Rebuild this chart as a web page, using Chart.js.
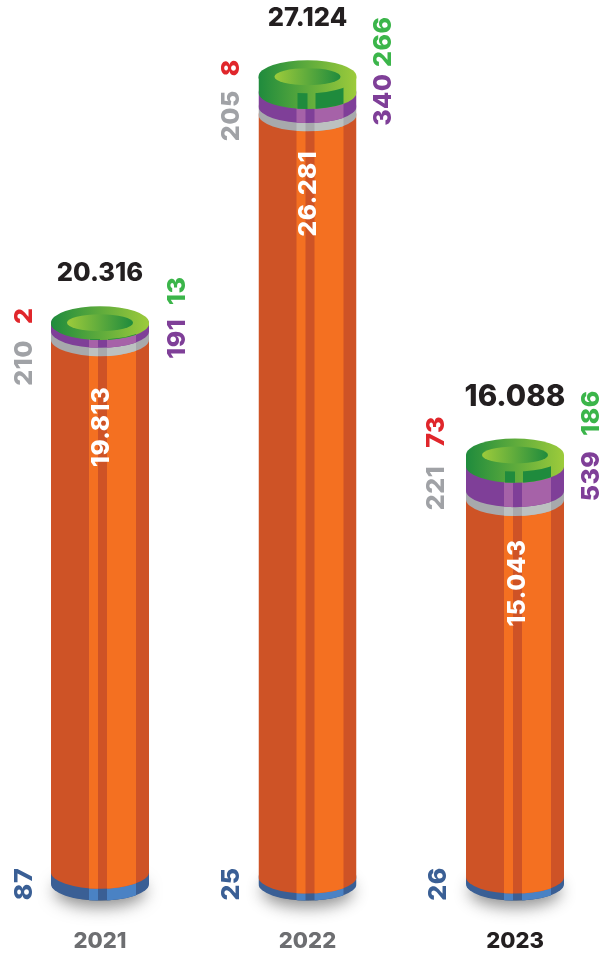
<!DOCTYPE html>
<html>
<head>
<meta charset="utf-8">
<title>2021-2023</title>
<script src="https://cdn.jsdelivr.net/npm/chart.js@4/dist/chart.umd.min.js"></script>
<style>
  html, body { margin: 0; padding: 0; background: #fff; }
  #wrap { position: relative; width: 601px; height: 955px; }
</style>
</head>
<body>
<div id="wrap"><canvas id="chart"></canvas></div>
<script>
const years = ['2021', '2022', '2023'];
const totals = ['20.316', '27.124', '16.088'];
const blue = [87, 25, 26];
const orange = [19813, 26281, 15043];
const gray = [210, 205, 221];
const red = [2, 8, 73];
const purple = [191, 340, 539];
const green = [13, 266, 186];

const series = [blue, orange, gray, red, purple, green];

// the source picture is not drawn to one scale: each column gets its own axis
const columnMax = [32000, 29700, 33150];
const RY = 16.5;

const shades = {
  blue: ['#3A5F95', '#4A82C4'],
  orange: ['#CE5326', '#F47021'],
  gray: ['#A7A9AC', '#BCC1C0'],
  purple: ['#7F3F98', '#A662A8']
};

// label placement, relative to the column centre and its top
const spots = {
  total: [[0, -49], [0, -58], [0, -58]],
  orange: [[1.5, 104], [1.5, 117], [2.5, 128]],
  red: [[-75.5, -7], [-76.5, -9], [-78.5, -23]],
  gray: [[-75.5, 40], [-76.5, 39], [-78.5, 33]],
  green: [[77.5, -32], [75.5, -35], [76.5, -42]],
  purple: [[77.5, 16], [75.5, 23], [76.5, 21]]
};
const totalSize = [25.5, 25.5, 29.5];

const fmt = v => v >= 1000 ? String(v).replace(/(\d)(\d{3})$/, '$1.$2') : String(v);

function segment(ctx, x, w, yTop, yBottom, pair) {
  const cx = x + w / 2;
  ctx.save();
  ctx.beginPath();
  ctx.moveTo(x, yTop);
  ctx.lineTo(x, yBottom);
  ctx.ellipse(cx, yBottom, w / 2, RY, 0, Math.PI, 0, true);
  ctx.lineTo(x + w, yTop);
  ctx.ellipse(cx, yTop, w / 2, RY, 0, 0, Math.PI, true);
  ctx.closePath();
  ctx.clip();
  const h = yBottom - yTop + RY * 2 + 2;
  const top = yTop - RY - 1;
  ctx.fillStyle = pair[0];
  ctx.fillRect(x, top, w, h);
  ctx.fillStyle = pair[1];
  ctx.fillRect(x + 38, top, 9, h);
  ctx.fillRect(x + 56, top, 29, h);
  ctx.restore();
}

function ringGradient(ctx, x0, x1, from, to) {
  const g = ctx.createLinearGradient(x0, 0, x1, 0);
  g.addColorStop(0, from);
  g.addColorStop(1, to);
  return g;
}

function drawTop(ctx, x, w, yTop, yBottom) {
  const cx = x + w / 2;
  // green wall
  ctx.save();
  ctx.beginPath();
  ctx.moveTo(x, yTop);
  ctx.lineTo(x, yBottom);
  ctx.ellipse(cx, yBottom, w / 2, RY, 0, Math.PI, 0, true);
  ctx.lineTo(x + w, yTop);
  ctx.closePath();
  ctx.clip();
  ctx.fillStyle = ringGradient(ctx, x, x + w, '#1F8B3D', '#9DCB3B');
  ctx.fillRect(x, yTop, w, yBottom - yTop + RY + 1);
  ctx.fillStyle = '#1F8B3D';
  ctx.fillRect(x + 39, yTop, 10, yBottom - yTop + RY + 1);
  ctx.fillRect(x + 57, yTop, 28, yBottom - yTop + RY + 1);
  ctx.restore();
  // lid
  ctx.beginPath();
  ctx.ellipse(cx, yTop, w / 2, RY, 0, 0, Math.PI * 2);
  ctx.fillStyle = ringGradient(ctx, x, x + w, '#1F8B3D', '#9DCB3B');
  ctx.fill();
  // hole
  ctx.beginPath();
  ctx.ellipse(cx, yTop, 33, 8.5, 0, 0, Math.PI * 2);
  ctx.fillStyle = ringGradient(ctx, cx - 33, cx + 33, '#9DCB3B', '#1F8B3D');
  ctx.fill();
}

function drawShadow(ctx, cx, y, w) {
  ctx.save();
  ctx.shadowColor = 'rgba(60,60,60,0.7)';
  ctx.shadowBlur = 16;
  ctx.shadowOffsetY = 7;
  ctx.fillStyle = 'rgba(90,90,90,0.8)';
  ctx.beginPath();
  ctx.ellipse(cx, y, w / 2 - 3, RY, 0, 0, Math.PI * 2);
  ctx.fill();
  ctx.restore();
}

function upright(ctx, text, x, y, color, size) {
  ctx.save();
  ctx.translate(x, y);
  ctx.rotate(-Math.PI / 2);
  ctx.font = '800 ' + size + 'px Inter';
  ctx.letterSpacing = '0.5px';
  ctx.textAlign = 'center';
  ctx.textBaseline = 'middle';
  ctx.fillStyle = color;
  ctx.fillText(text, 0, 0);
  ctx.restore();
}

const barOf = (chart, s, i) => chart.getDatasetMeta(s * years.length + i).data[i];

const cylinders = {
  id: 'cylinders',
  afterDatasetsDraw(chart) {
    const ctx = chart.ctx;
    const band = chart.scales.yBand;
    const px = v => band.getPixelForValue(0) - band.getPixelForValue(v);
    years.forEach((_, i) => {
      const first = barOf(chart, 0, i);
      const last = barOf(chart, 5, i);
      const w = first.width, x = first.x - w / 2, cx = first.x;
      const base = first.base, top = last.y;

      drawShadow(ctx, cx, base, w);

      // thin rings keep a readable thickness, the orange body takes the rest
      const blueTop = base - Math.max(7, px(blue[i]) * 3.4);
      const wallBottom = top + px(green[i]) * 1.5;
      const purpleBottom = wallBottom + px(purple[i] + red[i]);
      const grayBottom = purpleBottom + px(gray[i]);

      segment(ctx, x, w, blueTop, base, shades.blue);
      segment(ctx, x, w, grayBottom, blueTop, shades.orange);
      segment(ctx, x, w, purpleBottom, grayBottom, shades.gray);
      segment(ctx, x, w, wallBottom, purpleBottom, shades.purple);
      drawTop(ctx, x, w, top, wallBottom);

      const at = (name) => [cx + spots[name][i][0], top + spots[name][i][1]];
      let p = at('total');
      ctx.font = '800 ' + totalSize[i] + 'px Inter';
      ctx.textAlign = 'center';
      ctx.textBaseline = 'middle';
      ctx.fillStyle = '#231F20';
      ctx.fillText(totals[i], p[0], p[1]);
      p = at('orange'); upright(ctx, fmt(orange[i]), p[0], p[1], '#FFFFFF', 24.5);
      p = at('red'); upright(ctx, fmt(red[i]), p[0], p[1], '#E0262B', 25);
      p = at('gray'); upright(ctx, fmt(gray[i]), p[0], p[1], '#A0A2A6', 25);
      p = at('green'); upright(ctx, fmt(green[i]), p[0], p[1], '#3BB54A', 25);
      p = at('purple'); upright(ctx, fmt(purple[i]), p[0], p[1], '#7F3F98', 25);
      upright(ctx, fmt(blue[i]), cx - 75.5 - (i === 0 ? 0 : 1), base, '#3A5F95', 25);
    });
  }
};

const datasets = [];
series.forEach(values => {
  years.forEach((_, i) => {
    datasets.push({
      data: years.map((_, j) => (j === i ? values[i] : null)),
      yAxisID: 'y' + i,
      backgroundColor: 'transparent',
      barThickness: 98
    });
  });
});

const hidden = max => ({ type: 'linear', display: false, stacked: true, min: 0, max: max });

new Chart(document.getElementById('chart'), {
  type: 'bar',
  data: { labels: years, datasets: datasets },
  options: {
    responsive: true,
    maintainAspectRatio: false,
    animation: false,
    layout: { padding: { left: 100, right: 86, top: 0, bottom: 0 } },
    plugins: { legend: { display: false }, tooltip: { enabled: false } },
    scales: {
      x: {
        stacked: true,
        offset: false,
        grid: { display: false },
        border: { display: false },
        afterFit: scale => { scale.height = 71; },
        ticks: {
          padding: 36,
          maxRotation: 0,
          autoSkip: false,
          font: { family: 'Inter', size: 22, weight: '800' },
          color: ctx => (ctx.index === 2 ? '#231F20' : '#6D6E71')
        }
      },
      y0: hidden(columnMax[0]),
      y1: hidden(columnMax[1]),
      y2: hidden(columnMax[2]),
      yBand: { type: 'linear', display: false, min: 0, max: 22100 }
    }
  },
  plugins: [cylinders]
});
</script>
</body>
</html>
